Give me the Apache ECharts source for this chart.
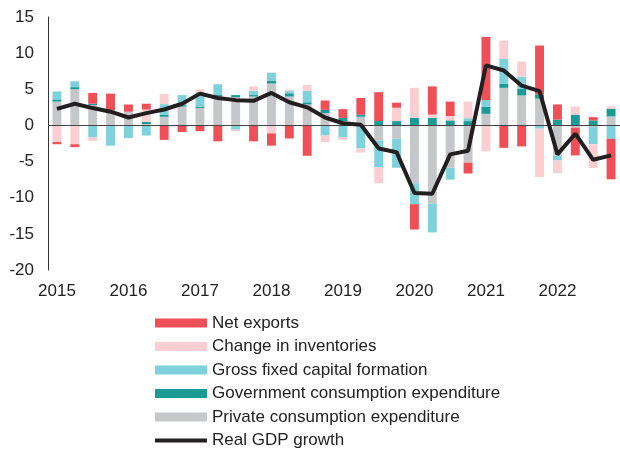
<!DOCTYPE html>
<html>
<head>
<meta charset="utf-8">
<script src="https://cdn.jsdelivr.net/npm/echarts@6/dist/echarts.min.js"></script>
<style>
  html, body { margin: 0; padding: 0; background: #fff; }
  #chart { width: 620px; height: 453px; }
</style>
</head>
<body>
<div id="chart"></div>
<script>
// quarters, 2015Q1 - 2022Q4
var quarters = [
  '2015Q1','2015Q2','2015Q3','2015Q4','2016Q1','2016Q2','2016Q3','2016Q4',
  '2017Q1','2017Q2','2017Q3','2017Q4','2018Q1','2018Q2','2018Q3','2018Q4',
  '2019Q1','2019Q2','2019Q3','2019Q4','2020Q1','2020Q2','2020Q3','2020Q4',
  '2021Q1','2021Q2','2021Q3','2021Q4','2022Q1','2022Q2','2022Q3','2022Q4'
];
var yTicks = [-20, -15, -10, -5, 0, 5, 10, 15];

// contributions, percentage points
var privateCons = [3.3, 5.0, 2.8, 2.1, 1.9, 0.2, 1.2, 2.6, 2.4, 4.0, 3.9, 4.0, 5.8, 4.0, 2.9, 1.7,
                   0.6, 1.2, -2.1, -1.85, -8.0, -10.8, -5.85, -5.15, 1.6, 5.2, 4.15, 3.7, -4.15, -0.3, -0.2, 1.25];
var govCons     = [0.3, 0.3, 0.2, 0, 0, 0.3, 0.25, 0.2, 0.2, 0.2, 0.3, 0.2, 0.4, 0.45, 0.3, 0.45,
                   0.45, 0.3, 0.6, 0.6, 1.05, 1.05, 0.7, 0.6, 1.0, 0.55, 0.9, 0.6, 0.8, 1.5, 0.7, 1.05];
var gfcf        = [1.1, 0.8, -1.6, -2.8, -1.75, -1.4, 1.5, 1.4, 2.0, 1.5, -0.6, 0.6, 1.1, 0.3, 1.6, -1.4,
                   -1.6, -3.2, -3.7, -4.0, -2.9, -4.0, -1.65, 0.4, 0.9, 3.45, 1.7, -0.45, -0.7, 0, -2.4, -1.85];
var inventories = [-2.3, -2.6, -0.55, 0, 0, 1.7, 1.4, 0, 0.4, 0, -0.2, 0.6, -1.1, 0.2, 0.8, -0.9,
                   -0.4, -0.55, -2.2, 1.85, 4.15, 0.45, 0.6, 2.3, -3.6, 2.55, 2.1, -6.7, -1.75, 1.1, -3.3, 0.35];
var netExports  = [-0.3, -0.4, 1.5, 2.3, 1.0, 0.8, -2.0, -0.9, -0.8, -2.2, 0, -2.2, -1.7, -1.8, -4.2, 1.3,
                   1.2, 2.3, 4.0, 0.7, -3.5, 3.9, 2.0, -1.5, 8.75, -3.1, -2.9, 6.75, 2.1, -3.85, 0.45, -5.6];
var gdpGrowth   = [2.3, 3.0, 2.4, 1.9, 1.1, 1.7, 2.2, 3.0, 4.4, 3.8, 3.5, 3.4, 4.5, 3.2, 2.5, 1.1,
                   0.3, 0.1, -3.2, -3.7, -9.35, -9.45, -4.0, -3.5, 8.3, 7.6, 5.5, 4.75, -4.0, -1.15, -4.75, -4.15];

var font = "'Liberation Sans', Arial, sans-serif";

function barSeries(name, data, color) {
  return {
    name: name,
    type: 'bar',
    stack: 'contrib',
    barWidth: '50%',
    data: data,
    itemStyle: { color: color },
    emphasis: { disabled: true }
  };
}

var chart = echarts.init(document.getElementById('chart'), null, { renderer: 'canvas' });

var series = [
  barSeries('Private consumption expenditure', privateCons, '#c6c7c9'),
  barSeries('Government consumption expenditure', govCons, '#1a9b96'),
  barSeries('Gross fixed capital formation', gfcf, '#7fd1db'),
  barSeries('Change in inventories', inventories, '#fbcfd1'),
  barSeries('Net exports', netExports, '#ef5058'),
  {
    name: 'Real GDP growth',
    type: 'line',
    data: gdpGrowth,
    symbol: 'none',
    z: 5,
    lineStyle: { color: '#231f20', width: 4 },
    itemStyle: { color: '#231f20' },
    // zero line across the plot
    markLine: {
      silent: true,
      symbol: 'none',
      label: { show: false },
      lineStyle: { color: '#444', width: 1, type: 'solid' },
      data: [{ yAxis: 0 }]
    }
  }
];

chart.setOption({
  animation: false,
  textStyle: { fontFamily: font },
  grid: { left: 48, top: 17, width: 574, height: 253 },
  legend: {
    orient: 'vertical',
    left: 155,
    top: 314.5,
    padding: 0,
    itemWidth: 52,
    itemHeight: 9,
    itemGap: 6.5,
    textStyle: { color: '#222', fontSize: 17, fontFamily: font },
    data: [
      { name: 'Net exports', icon: 'rect' },
      { name: 'Change in inventories', icon: 'rect' },
      { name: 'Gross fixed capital formation', icon: 'rect' },
      { name: 'Government consumption expenditure', icon: 'rect' },
      { name: 'Private consumption expenditure', icon: 'rect' },
      { name: 'Real GDP growth', icon: 'path://M0,0H52V4H0Z' }
    ]
  },
  xAxis: {
    type: 'category',
    data: quarters,
    axisLine: { show: false, onZero: false },
    axisTick: { show: false },
    axisLabel: {
      interval: 3,
      margin: 13,
      color: '#222',
      fontSize: 17,
      fontFamily: font,
      formatter: function (v) { return v.slice(0, 4); }
    }
  },
  yAxis: {
    type: 'value',
    min: yTicks[0],
    max: yTicks[yTicks.length - 1],
    interval: 5,
    axisLine: { show: true, lineStyle: { color: '#333', width: 1 } },
    axisTick: { show: false },
    splitLine: { show: false },
    axisLabel: { margin: 14, color: '#222', fontSize: 17, fontFamily: font }
  },
  series: series
});
</script>
</body>
</html>
